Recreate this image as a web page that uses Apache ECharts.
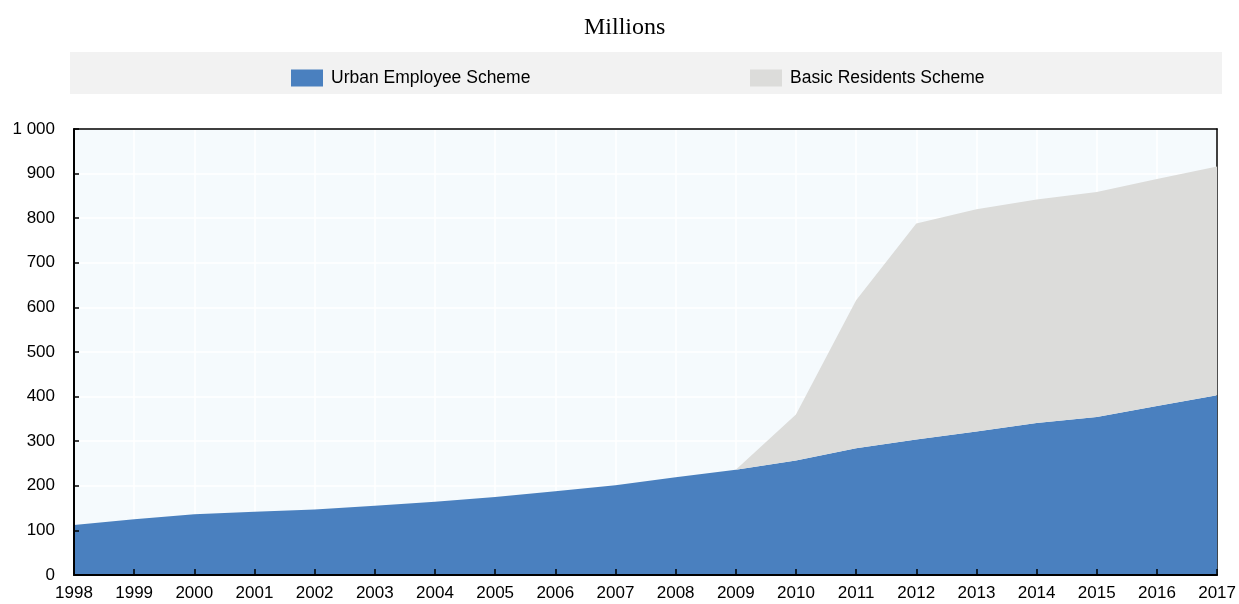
<!DOCTYPE html>
<html><head><meta charset="utf-8">
<script src="https://cdn.jsdelivr.net/npm/echarts@6/dist/echarts.min.js"></script>
<style>html,body{margin:0;padding:0;background:#fff}#c{width:1239px;height:604px}</style>
</head><body><div id="c"></div>
<script>
const years = ['1998','1999','2000','2001','2002','2003','2004','2005','2006','2007','2008','2009','2010','2011','2012','2013','2014','2015','2016','2017'];
const urbanEmployee = [112, 125, 136, 142, 147, 155, 164, 175, 188, 201, 219, 236, 257, 284, 304, 322, 341, 354, 379, 403];
const basicResidents = [0, 0, 0, 0, 0, 0, 0, 0, 0, 0, 0, 0, 103, 332, 484, 498, 501, 505, 509, 513];
const yTicks = [0, 100, 200, 300, 400, 500, 600, 700, 800, 900, 1000];

const chart = echarts.init(document.getElementById('c'), null, {renderer: 'canvas'});
const legendText = {fontFamily: 'Liberation Sans', fontSize: 17.5, color: '#000', padding: [0,0,0,3]};
chart.setOption({
  animation: false,
  title: {text: 'Millions', left: 579, top: 11,
    textStyle: {fontFamily: 'Liberation Serif', fontSize: 24, fontWeight: 'normal', color: '#000'}},
  graphic: [{type: 'rect', shape: {x: 70, y: 52, width: 1152, height: 42}, style: {fill: '#f2f2f2'}, z: -1}],
  legend: [
    {data: ['Urban Employee Scheme'], left: 286, top: 64, itemWidth: 32, itemHeight: 17, itemGap: 10,
     icon: 'rect', textStyle: legendText},
    {data: ['Basic Residents Scheme'], left: 745, top: 64, itemWidth: 32, itemHeight: 17, itemGap: 10,
     icon: 'rect', textStyle: legendText}
  ],
  grid: {left: 74, right: 19, top: 129, bottom: 29, show: true, backgroundColor: '#f5fafd', borderWidth: 0, z: 0},
  xAxis: [
    {type: 'category', data: years, boundaryGap: false, position: 'bottom', z: 5,
     axisLine: {lineStyle: {color: '#000', width: 2}},
     axisTick: {inside: true, length: 6, lineStyle: {color: '#000', width: 1.5}},
     axisLabel: {color: '#000', fontFamily: 'Liberation Sans', fontSize: 17, margin: 10, interval: 0},
     splitLine: {show: false}},
    {type: 'category', data: years, boundaryGap: false, position: 'top', z: 1,
     axisLine: {show: true, onZero: false, lineStyle: {color: '#000', width: 1.5}},
     axisTick: {show: false}, axisLabel: {show: false},
     splitLine: {show: true, lineStyle: {color: '#ffffff', width: 1.5}}}
  ],
  yAxis: [
    {type: 'value', min: 0, max: 1000, interval: 100, position: 'left', z: 5,
     axisLine: {show: true, lineStyle: {color: '#000', width: 2}},
     axisTick: {show: true, inside: true, length: 5, lineStyle: {color: '#000', width: 1.5}},
     axisLabel: {color: '#000', fontFamily: 'Liberation Sans', fontSize: 17, margin: 19,
       formatter: v => yTicks.includes(v) ? String(v).replace(/\B(?=(\d{3})+(?!\d))/g, ' ') : ''},
     splitLine: {show: false}},
    {type: 'value', min: 0, max: 1000, interval: 100, position: 'right', z: 1,
     axisLine: {show: true, onZero: false, lineStyle: {color: '#000', width: 1.5}},
     axisTick: {show: false}, axisLabel: {show: false},
     splitLine: {show: true, lineStyle: {color: '#ffffff', width: 1.5}}}
  ],
  series: [
    {name: 'Urban Employee Scheme', type: 'line', stack: 'total', data: urbanEmployee, symbol: 'none', z: 2,
     lineStyle: {width: 0}, itemStyle: {color: '#4a80bf'}, areaStyle: {color: '#4a80bf', opacity: 1}},
    {name: 'Basic Residents Scheme', type: 'line', stack: 'total', data: basicResidents, symbol: 'none', z: 2,
     lineStyle: {width: 0}, itemStyle: {color: '#dcdcda'}, areaStyle: {color: '#dcdcda', opacity: 1}}
  ]
});
</script></body></html>
